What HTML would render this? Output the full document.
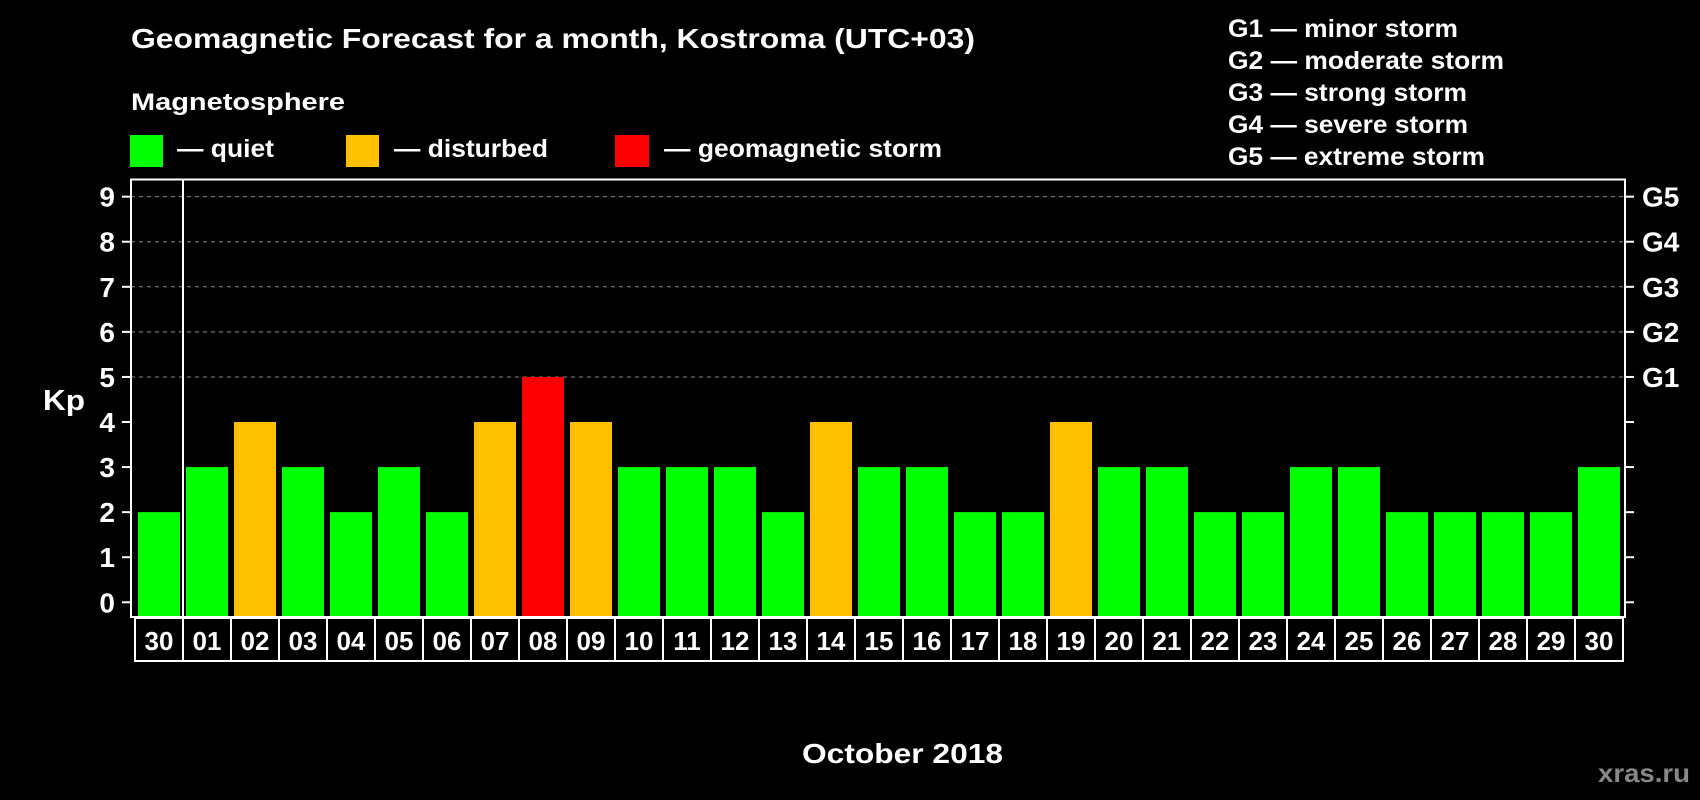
<!DOCTYPE html>
<html><head><meta charset="utf-8"><style>
html,body{margin:0;padding:0;background:#000;width:1700px;height:800px;overflow:hidden}
svg{display:block;font-family:"Liberation Sans",Arial,sans-serif;font-weight:bold}
</style></head><body>
<svg id="chart" width="1700" height="800" viewBox="0 0 1700 800">
<rect width="1700" height="800" fill="#000"/>
<text x="131" y="48" font-size="28" fill="#fff" textLength="844" lengthAdjust="spacingAndGlyphs">Geomagnetic Forecast for a month, Kostroma (UTC+03)</text>
<text x="131" y="110" font-size="24" fill="#fff" textLength="214" lengthAdjust="spacingAndGlyphs">Magnetosphere</text>
<g><rect x="130" y="135" width="33" height="32" fill="#00ff00"/><text x="177" y="157" font-size="25" fill="#fff" textLength="97" lengthAdjust="spacingAndGlyphs">— quiet</text></g>
<g><rect x="346" y="135" width="33" height="32" fill="#ffc000"/><text x="394" y="157" font-size="25" fill="#fff" textLength="154" lengthAdjust="spacingAndGlyphs">— disturbed</text></g>
<g><rect x="615" y="135" width="34" height="32" fill="#ff0000"/><text x="664" y="157" font-size="25" fill="#fff" textLength="278" lengthAdjust="spacingAndGlyphs">— geomagnetic storm</text></g>
<g font-size="25" fill="#fff">
<text x="1228" y="37" textLength="230" lengthAdjust="spacingAndGlyphs">G1 — minor storm</text>
<text x="1228" y="69" textLength="276" lengthAdjust="spacingAndGlyphs">G2 — moderate storm</text>
<text x="1228" y="101" textLength="239" lengthAdjust="spacingAndGlyphs">G3 — strong storm</text>
<text x="1228" y="133" textLength="240" lengthAdjust="spacingAndGlyphs">G4 — severe storm</text>
<text x="1228" y="165" textLength="257" lengthAdjust="spacingAndGlyphs">G5 — extreme storm</text>
</g>
<text x="43" y="410" font-size="29" fill="#fff" textLength="42" lengthAdjust="spacingAndGlyphs">Kp</text>
<text x="802" y="763" font-size="28" fill="#fff" textLength="201" lengthAdjust="spacingAndGlyphs">October 2018</text>
<text x="1690" y="782" font-size="26" fill="#888" text-anchor="end" textLength="92" lengthAdjust="spacingAndGlyphs">xras.ru</text>
<g id="grid"></g><g id="bars"></g><g id="axes"></g><g id="xlabels"></g>
</svg>
<script>
const days=["30","01","02","03","04","05","06","07","08","09","10","11","12","13","14","15","16","17","18","19","20","21","22","23","24","25","26","27","28","29","30"];
const kp=[2,3,4,3,2,3,2,4,5,4,3,3,3,2,4,3,3,2,2,4,3,3,2,2,3,3,2,2,2,2,3];
const yTicks=[0,1,2,3,4,5,6,7,8,9];
const gLabels=["G1","G2","G3","G4","G5"];
const NS="http://www.w3.org/2000/svg";
const L=131,R=1625,T=179.5,B=617;
const y=v=>602.3-45.07*v;
const x=i=>138+48*i;
function mk(p,t,a){const e=document.createElementNS(NS,t);for(const k in a)e.setAttribute(k,a[k]);p.appendChild(e);return e;}
const grid=document.getElementById('grid'),bars=document.getElementById('bars'),axes=document.getElementById('axes'),xl=document.getElementById('xlabels');
yTicks.forEach(v=>{
 if(v>=5){const g=mk(grid,'line',{x1:L,x2:R,y1:y(v),y2:y(v),stroke:'#888','stroke-width':1,'stroke-dasharray':'4,4'});
 
 }
 const t1=mk(axes,'line',{x1:122,x2:L,y1:y(v),y2:y(v),stroke:'#fff','stroke-width':2});
 
 
 const t2=mk(axes,'line',{x1:R,x2:1634,y1:y(v),y2:y(v),stroke:'#fff','stroke-width':2});
 
 
 const tx=mk(axes,'text',{x:115,y:y(v)+10,'font-size':28,fill:'#fff','text-anchor':'end'});tx.textContent=v;
 
 
});
gLabels.forEach((g,i)=>{
 const tx=mk(axes,'text',{x:1642,y:y(5+i)+10,'font-size':28,fill:'#fff'});tx.textContent=g;
 
 
});
kp.forEach((v,i)=>{
 const c=v>=5?'#ff0000':(v>=4?'#ffc000':'#00ff00');
 const b=mk(bars,'rect',{x:x(i),y:y(v),width:42,height:B-y(v),fill:c});
 
 
});
const fr=mk(axes,'rect',{x:L,y:T,width:R-L,height:B-T,fill:'none',stroke:'#fff','stroke-width':2});


const dv=mk(axes,'line',{x1:183,x2:183,y1:T,y2:B,stroke:'#fff','stroke-width':2});


days.forEach((d,i)=>{
 const cx=135+48*i;
 const r=mk(xl,'rect',{x:cx,y:618,width:48,height:43,fill:'#000',stroke:'#fff','stroke-width':2});
 
 
 const t=mk(xl,'text',{x:cx+24,y:650,'font-size':26,fill:'#fff','text-anchor':'middle'});t.textContent=d;
 
 
});
</script>
</body></html>
